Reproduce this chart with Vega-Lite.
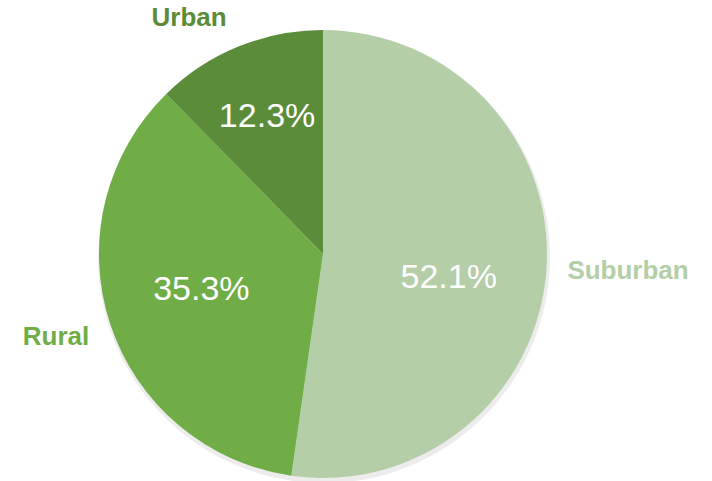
{
  "$schema": "https://vega.github.io/schema/vega-lite/v6.json",
  "width": 646,
  "height": 448,
  "autosize": "none",
  "padding": {"left": 0, "top": 30, "right": 66, "bottom": 3},
  "background": "white",
  "data": {
    "values": [
      {"category": "Suburban", "share": 52.1, "order": 1, "pct": "52.1%"},
      {"category": "Rural", "share": 35.3, "order": 2, "pct": "35.3%"},
      {"category": "Urban", "share": 12.3, "order": 3, "pct": "12.3%"}
    ]
  },
  "transform": [
    {"stack": "share", "groupby": [], "sort": [{"field": "order", "order": "ascending"}], "offset": "normalize", "as": ["t0", "t1"]},
    {"calculate": "(datum.t0 + datum.t1) / 2", "as": "tmid"}
  ],
  "encoding": {
    "color": {
      "field": "category",
      "type": "nominal",
      "scale": {"domain": ["Suburban", "Rural", "Urban"], "range": ["#b4cea8", "#70ad47", "#5a8c3a"]},
      "legend": null
    }
  },
  "layer": [
    {
      "mark": {"type": "arc", "outerRadius": 226, "stroke": null, "yOffset": 3, "xOffset": 1, "opacity": 0.35},
      "encoding": {
        "theta": {"field": "t0", "type": "quantitative", "scale": {"domain": [0, 1], "range": [0, 6.283185307179586]}},
        "theta2": {"field": "t1"},
        "color": {"value": "#c8c8c8"}
      }
    },
    {
      "mark": {"type": "arc", "outerRadius": 224, "stroke": null},
      "encoding": {
        "theta": {"field": "t0", "type": "quantitative", "scale": {"domain": [0, 1], "range": [0, 6.283185307179586]}},
        "theta2": {"field": "t1"}
      }
    },
    {
      "transform": [{"filter": "datum.category === 'Suburban'"}],
      "mark": {"type": "text", "radius": 126, "dy": 15, "font": "Liberation Sans", "fontSize": 34, "baseline": "middle", "align": "center"},
      "encoding": {
        "theta": {"field": "tmid", "type": "quantitative", "scale": {"domain": [0, 1], "range": [0, 6.283185307179586]}},
        "text": {"field": "pct"},
        "color": {"value": "white"}
      }
    },
    {
      "transform": [{"filter": "datum.category === 'Rural'"}],
      "mark": {"type": "text", "radius": 128, "dy": -4, "font": "Liberation Sans", "fontSize": 34, "baseline": "middle", "align": "center"},
      "encoding": {
        "theta": {"field": "tmid", "type": "quantitative", "scale": {"domain": [0, 1], "range": [0, 6.283185307179586]}},
        "text": {"field": "pct"},
        "color": {"value": "white"}
      }
    },
    {
      "transform": [{"filter": "datum.category === 'Urban'"}],
      "mark": {"type": "text", "radius": 148, "font": "Liberation Sans", "fontSize": 34, "baseline": "middle", "align": "center"},
      "encoding": {
        "theta": {"field": "tmid", "type": "quantitative", "scale": {"domain": [0, 1], "range": [0, 6.283185307179586]}},
        "text": {"field": "pct"},
        "color": {"value": "white"}
      }
    },
    {
      "transform": [{"filter": "datum.category === 'Suburban'"}],
      "mark": {"type": "text", "radius": 245, "font": "Liberation Sans", "fontSize": 26, "fontWeight": "bold", "baseline": "middle", "align": "left"},
      "encoding": {
        "theta": {"field": "tmid", "type": "quantitative", "scale": {"domain": [0, 1], "range": [0, 6.283185307179586]}},
        "text": {"field": "category"}
      }
    },
    {
      "transform": [{"filter": "datum.category === 'Rural'"}],
      "mark": {"type": "text", "radius": 246, "dy": 6, "font": "Liberation Sans", "fontSize": 26, "fontWeight": "bold", "baseline": "middle", "align": "right"},
      "encoding": {
        "theta": {"field": "tmid", "type": "quantitative", "scale": {"domain": [0, 1], "range": [0, 6.283185307179586]}},
        "text": {"field": "category"}
      }
    },
    {
      "transform": [{"filter": "datum.category === 'Urban'"}],
      "mark": {"type": "text", "radius": 255, "font": "Liberation Sans", "fontSize": 26, "fontWeight": "bold", "baseline": "middle", "align": "right"},
      "encoding": {
        "theta": {"field": "tmid", "type": "quantitative", "scale": {"domain": [0, 1], "range": [0, 6.283185307179586]}},
        "text": {"field": "category"}
      }
    }
  ]
}
